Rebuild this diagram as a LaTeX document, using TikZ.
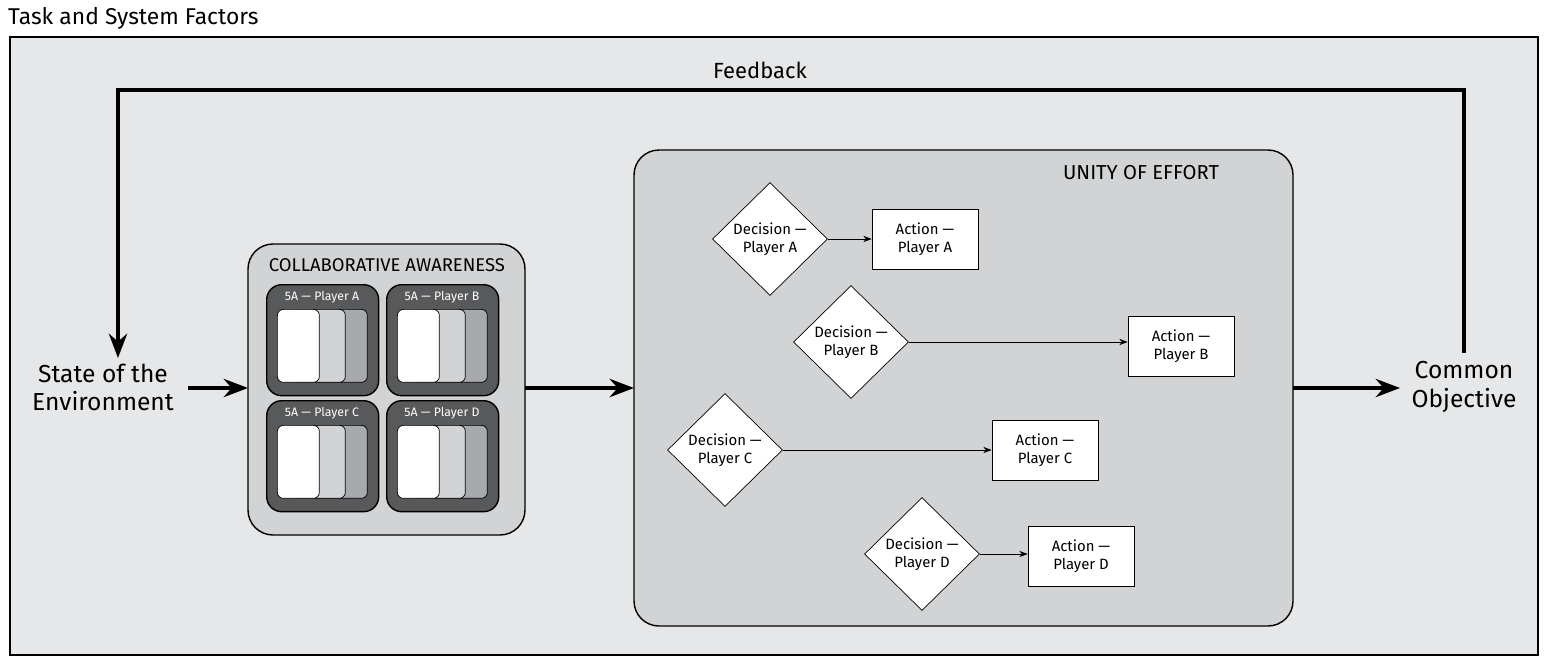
\documentclass[tikz,border=0pt]{standalone}
\usepackage{fontspec}
\setmainfont{Fira Sans}
\usetikzlibrary{arrows.meta,shapes.geometric,positioning,calc}
\definecolor{bgray}{HTML}{E6E7E8}
\definecolor{pgray}{HTML}{D1D3D4}
\definecolor{dgray}{HTML}{58595B}
\definecolor{mgray}{HTML}{A7A9AC}
\begin{document}
\begin{tikzpicture}[x=0.02cm,y=-0.02cm,>=Stealth,
    panel/.style={draw,thick,fill=pgray,rounded corners=0.5cm},
    fivea/.style={draw,thick,fill=dgray,rounded corners=0.3cm,minimum width=2.24cm,minimum height=2.22cm},
    card/.style={draw,fill=#1,rounded corners=0.12cm,minimum height=1.46cm},
    decision/.style={diamond,draw,fill=white,aspect=1,inner sep=1pt,minimum width=2.3cm,font=\fontsize{8.5}{10}\selectfont,align=center},
    action/.style={draw,fill=white,minimum width=2.12cm,minimum height=1.2cm,font=\fontsize{8.5}{10}\selectfont,align=center},
    big/.style={font=\fontsize{14}{16}\selectfont,align=center},
    heavy/.style={->,line width=2.4pt}]
  \useasboundingbox (0,0) rectangle (1548,664);
  \node[anchor=west,font=\fontsize{13}{15}\selectfont] (title) at (2,18) {Task and System Factors};
  \draw[thick,fill=bgray] (10,37) rectangle (1538,655);

  \node[big] (env) at (103,387) {State of the\\Environment};
  \node[big] (obj) at (1464,387) {Common\\Objective};
  \coordinate (envTop) at (118,358);
  \coordinate (envOut) at (188,388);
  \coordinate (objTop) at (1464,353);
  \coordinate (objIn) at (1400,388);

  % collaborative awareness
  \draw[panel] (248,244) rectangle (525,535);
  \node[font=\fontsize{10.5}{12}\selectfont] (ca) at (387,265) {COLLABORATIVE AWARENESS};
  \coordinate (caL) at (248,388);
  \coordinate (caR) at (525,388);
  \foreach \p/\x/\y in {A/266/284,B/386/284,C/266/400,D/386/400}{
    \node[fivea,anchor=north west] (fa\p) at (\x,\y) {};
    \node[text=white,font=\fontsize{7}{8}\selectfont] at (\x+56,\y+13) {5A --- Player \p};
    \node[card=mgray,minimum width=1.14cm,anchor=north west] at (\x+44,\y+25) {};
    \node[card=pgray,minimum width=1.0cm,anchor=north west] at (\x+29,\y+25) {};
    \node[card=white,minimum width=0.84cm,anchor=north west] at (\x+11,\y+25) {};
  }

  % unity of effort
  \draw[panel] (634,150) rectangle (1293,626);
  \node[font=\fontsize{11.5}{13}\selectfont] (ue) at (1141,173) {UNITY OF EFFORT};
  \coordinate (ueL) at (634,388);
  \coordinate (ueR) at (1293,388);
  \foreach \p/\dx/\dy/\ax/\ay in {A/770/239/925/239,B/851/342/1181/346,C/725/450/1045/450,D/922/554/1081/556}{
    \node[decision] (dec\p) at (\dx,\dy) {Decision ---\\Player \p};
    \node[action] (act\p) at (\ax,\ay) {Action ---\\Player \p};
    \draw[->] (dec\p.east) -- (dec\p.east -| act\p.west);
  }

  \draw[heavy] (envOut) -- (caL);
  \draw[heavy] (caR) -- (ueL);
  \draw[heavy] (ueR) -- (objIn);

  % feedback
  \draw[heavy] (objTop) |- (envTop |- 0,90) -- (envTop);
  \node[font=\fontsize{12.5}{14}\selectfont] (fb) at (760,70) {Feedback};
\end{tikzpicture}
\end{document}
